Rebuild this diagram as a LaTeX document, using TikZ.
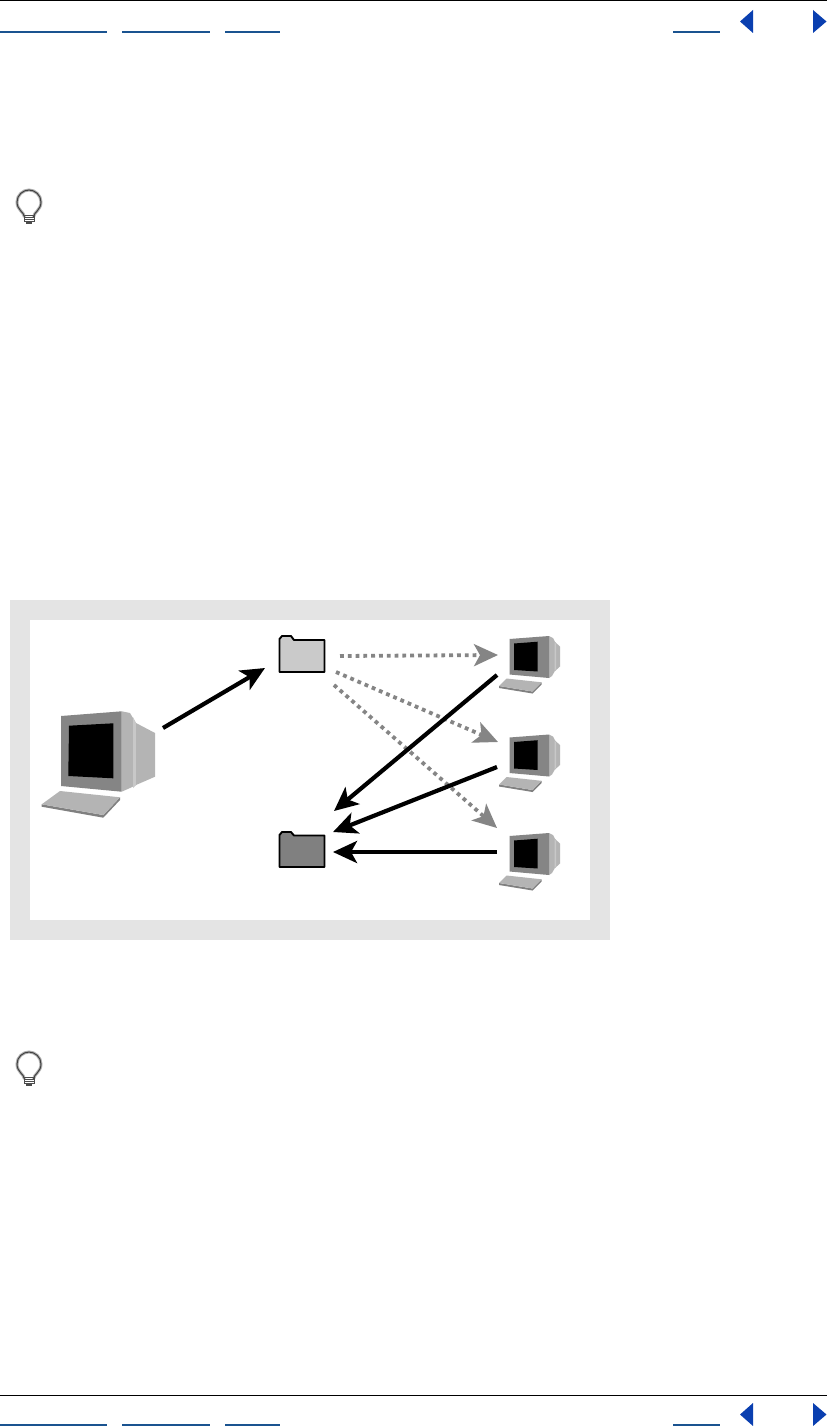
\documentclass[tikz,border=0pt]{standalone}
\usetikzlibrary{arrows.meta}
\definecolor{navbar}{HTML}{1A5390}
\definecolor{navtri}{HTML}{0A3FB0}
\definecolor{pale}{HTML}{E4E4E4}
\definecolor{mongrey}{HTML}{858585}
\definecolor{monlight}{HTML}{B4B4B4}
\definecolor{monmid}{HTML}{C8C8C8}
\definecolor{keyedge}{HTML}{808080}
\definecolor{folderlight}{HTML}{CACACA}
\definecolor{folderdark}{HTML}{808080}
\tikzset{
  x=1pt,y=-1pt,
  rulebar/.style={fill=black,draw=none},
  navlink/.style={fill=navbar,draw=none},
  navarrow/.style={fill=navtri,draw=none},
  solidarrow/.style={draw=black,line width=4.2pt,-{Stealth[length=24pt,width=22pt,inset=6pt]}},
  dotarrow/.style={draw=mongrey,line width=3.8pt,dash pattern=on 3.8pt off 4pt,-{Stealth[length=24pt,width=22pt,inset=6pt,color=mongrey,sep=0pt]}},
  folderbox/.style={draw=black,line width=1.9pt,line join=round},
  bulbhalo/.style={draw=black!30,line width=3pt},
  bulbline/.style={draw=black!75,line width=1pt},
  smallmon/.pic={
    \fill[monlight] (549,636) -- (553,638) -- (556,644) -- (556,669) -- (552,676) -- (549,678) -- cycle;
    \fill[monlight] (555,642) -- (560,646.5) -- (560,666.5) -- (555,671) -- cycle;
    \fill[monmid] (554.5,642) -- (556,644) -- (556,669) -- (554.5,671) -- cycle;
    \fill[mongrey] (509.5,639) -- (549,636) -- (549,678) -- (509.5,674.5) -- cycle;
    \fill[black] (514,643.5) -- (537.7,641.7) -- (537.7,671.5) -- (514,670) -- cycle;
    \fill[keyedge] (499,686) -- (532.5,691.5) -- (541.5,682.3) -- (541.5,684.5) -- (532.5,693.5) -- (499,688) -- cycle;
    \fill[monlight] (506.5,678.5) -- (541.5,682.3) -- (532.5,691.5) -- (499,686) -- cycle;
  },
  bulbicon/.pic={
    \path[bulbhalo] (-4.5,15) .. controls (-5,10) and (-12,8) .. (-12,0) .. controls (-12,-7) and (-6,-12) .. (0,-12) .. controls (6,-12) and (12,-7) .. (12,0) .. controls (12,8) and (5,10) .. (4.5,15);
    \path[bulbline] (-4.5,15) .. controls (-5,10) and (-12,8) .. (-12,0) .. controls (-12,-7) and (-6,-12) .. (0,-12) .. controls (6,-12) and (12,-7) .. (12,0) .. controls (12,8) and (5,10) .. (4.5,15);
    \draw[black!70,line width=.9pt] (-5,13) rectangle (5,19.5);
    \draw[black!70,line width=.9pt] (-5,15.2) -- (5,15.2) (-5,17.4) -- (5,17.4);
    \fill[black!70] (-3,19.5) rectangle (3,21.5);
  }
}
\begin{document}
\begin{tikzpicture}
\useasboundingbox (0,0) rectangle (827,1426);
\fill[white] (0,0) rectangle (827,1426);
% header
\path[rulebar] (0,0) rectangle (827,1.4);
\path[navlink] (0,31) rectangle (107,33);
\path[navlink] (122,31) rectangle (210,33);
\path[navlink] (225,31) rectangle (280,33);
\path[navlink] (673,31) rectangle (720,33);
\path[navarrow] (740,21.5) -- (753,10) -- (753,33) -- cycle;
\path[navarrow] (813,10) -- (826.5,21.5) -- (813,33) -- cycle;
% footer
\path[rulebar] (0,1395) rectangle (827,1396.4);
\path[navlink] (0,1424) rectangle (107,1426);
\path[navlink] (122,1424) rectangle (210,1426);
\path[navlink] (225,1424) rectangle (280,1426);
\path[navlink] (673,1424) rectangle (720,1426);
\path[navarrow] (740,1414.5) -- (753,1403) -- (753,1426) -- cycle;
\path[navarrow] (813,1403) -- (826.5,1414.5) -- (813,1426) -- cycle;
% tip icons
\pic at (29,202) {bulbicon};
\pic at (29,1064) {bulbicon};
% frame
\fill[pale] (10,600) rectangle (610,940);
\fill[white] (30,620) rectangle (590,920);
% big computer
\fill[monlight] (121.7,711.3) -- (130,713) -- (136,723) -- (136,785) -- (130,788) -- (121.7,791.7) -- cycle;
\fill[monmid] (133,717) -- (136,723) -- (136,785) -- (133,788) -- cycle;
\fill[monlight] (136,723) -- (155,733) -- (155,776.7) -- (136,785) -- cycle;
\fill[mongrey] (61,716) -- (121.7,711.3) -- (121.7,791.7) -- (61,786) -- cycle;
\fill[black] (69,725.7) -- (113.3,723.3) -- (113.3,778.3) -- (68.3,776) -- cycle;
\fill[keyedge] (41.7,804.3) -- (103.3,815) -- (120,797.3) -- (120,800) -- (103.3,817.7) -- (41.7,806.7) -- cycle;
\fill[monlight] (60,791) -- (120,797.3) -- (103.3,815) -- (41.7,804.3) -- cycle;
% small computers
\pic at (0,0) {smallmon};
\pic at (0,98.5) {smallmon};
\pic at (0,197) {smallmon};
% folders
\draw[folderbox,fill=folderlight] (279.5,672) -- (279.5,639) -- (282,636) -- (291,636) -- (294,640) -- (324.5,640) -- (324.5,672) -- cycle;
\draw[folderbox,fill=folderdark] (279.5,867) -- (279.5,835) -- (282,832) -- (291,832) -- (294,835.5) -- (324.5,835.5) -- (324.5,867) -- cycle;
% named connector ends
\coordinate (bigOut) at (163,728);
\coordinate (folderAin) at (265,668);
\coordinate (folderAoutOne) at (340,656);
\coordinate (folderAoutTwo) at (336,672);
\coordinate (folderAoutThree) at (334,685);
\coordinate (monOneIn) at (498,655);
\coordinate (monTwoIn) at (498,742);
\coordinate (monThreeIn) at (497,828);
\coordinate (monOneOut) at (497,675);
\coordinate (monTwoOut) at (497,767);
\coordinate (monThreeOut) at (497,852);
\coordinate (folderBinOne) at (334,811);
\coordinate (folderBinTwo) at (333,832);
\coordinate (folderBinThree) at (333,852);
% connectors
\draw[dotarrow] (folderAoutOne) -- (monOneIn);
\draw[dotarrow] (folderAoutTwo) -- (monTwoIn);
\draw[dotarrow] (folderAoutThree) -- (monThreeIn);
\draw[solidarrow] (bigOut) -- (folderAin);
\draw[solidarrow] (monOneOut) -- (folderBinOne);
\draw[solidarrow] (monTwoOut) -- (folderBinTwo);
\draw[solidarrow] (monThreeOut) -- (folderBinThree);
\end{tikzpicture}
\end{document}
